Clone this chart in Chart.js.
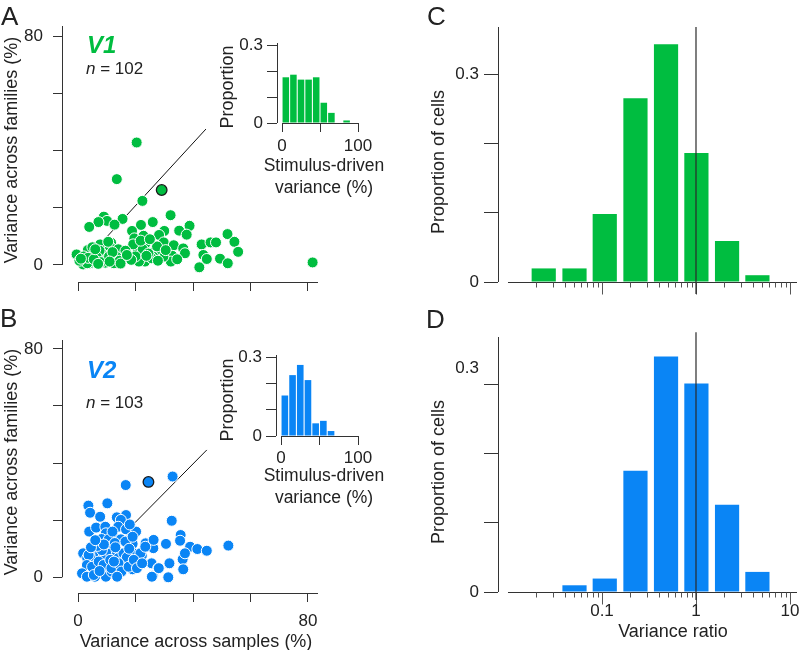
<!DOCTYPE html>
<html>
<head>
<meta charset="utf-8">
<script src="https://cdn.jsdelivr.net/npm/chart.js@4.4.1/dist/chart.umd.min.js"></script>
<style>
  body { margin: 0; background: #fff; }
  #fig { position: relative; width: 800px; height: 650px; overflow: hidden;
         font-family: "Liberation Sans", Arial, sans-serif; color: #222; }
  #fig canvas { position: absolute; left: 0; top: 0; }
  .lbl { position: absolute; line-height: 1; white-space: nowrap; }
  .panel { font-size: 26px; }
  .area { font-size: 24px; font-weight: bold; font-style: italic; }
  .n { font-size: 17px; }
  .xt { position: absolute; width: 180px; text-align: center; font-size: 17.5px; line-height: 22px; }
  .ttl { position: absolute; font-size: 18px; line-height: 1; white-space: nowrap; transform: translate(-50%, -50%); }
  .ttl.v { transform: translate(-50%, -50%) rotate(-90deg); }
</style>
</head>
<body>
<div id="fig">
  <canvas id="scatterA" width="800" height="650"></canvas>
  <canvas id="insetA" width="800" height="650"></canvas>
  <canvas id="scatterB" width="800" height="650"></canvas>
  <canvas id="insetB" width="800" height="650"></canvas>
  <canvas id="ratioC" width="800" height="650"></canvas>
  <canvas id="ratioD" width="800" height="650"></canvas>

  <div class="lbl panel" style="left:1px;top:3px">A</div>
  <div class="lbl panel" style="left:0px;top:305px">B</div>
  <div class="lbl panel" style="left:427px;top:3px">C</div>
  <div class="lbl panel" style="left:426px;top:306px">D</div>
  <div class="lbl area" style="left:87px;top:33px;color:#00bd40">V1</div>
  <div class="lbl n" style="left:86px;top:60px"><i>n</i> = 102</div>
  <div class="lbl area" style="left:87px;top:358px;color:#0a85f5">V2</div>
  <div class="lbl n" style="left:86px;top:394px"><i>n</i> = 103</div>
  <div class="xt" style="left:234px;top:154px">Stimulus-driven<br>variance (%)</div>
  <div class="xt" style="left:234px;top:464px">Stimulus-driven<br>variance (%)</div>

  <div class="ttl v" style="left:11px;top:150px">Variance across families (%)</div>
  <div class="ttl v" style="left:11px;top:462px">Variance across families (%)</div>
  <div class="ttl" style="left:196px;top:641px">Variance across samples (%)</div>
  <div class="ttl v" style="left:227px;top:87px">Proportion</div>
  <div class="ttl v" style="left:227px;top:400px">Proportion</div>
  <div class="ttl v" style="left:438px;top:162px">Proportion of cells</div>
  <div class="ttl v" style="left:438px;top:472px">Proportion of cells</div>
  <div class="ttl" style="left:673px;top:631px">Variance ratio</div>
</div>
<script>
// ---- data ----
// panel A: V1 cells, variance across samples (x) vs across families (y), %
const v1Samples = [20.4, 13.5, 22.4, 32.2, 15.5, 9.0, 10.1, 7.1, 3.9, 12.7, 26.0, 21.9, 35.2, 38.8, 37.8, 30.0, 28.2, 18.8, 19.6, 22.8,
  23.5, 29.8, 33.3, 36.6, 37.2, 32.8, 32.3, 29.7, 26.8, 26.2, 24.2, 23.3, 21.2, 20.8, 25.6, 22.5, 19.2, 27.5, 43.0, 46.1,
  48.0, 52.0, 54.4, 55.7, 43.6, 44.8, 49.4, 52.1, 42.2, 81.6, -0.5, 1.8, 3.4, 4.2, 5.9, 6.5, 7.7, 9.0, 10.2, 11.5,
  12.3, 12.5, 12.9, 15.5, 16.0, 11.1, 2.4, 8.8, 10.5, 4.8, 3.2, 7.5, 14.0, 5.0, 9.5, 13.5, 2.0, 6.5, 0.5, 3.5,
  8.0, 10.8, 14.5, 16.5, 5.5, 12.0, 20.0, 24.5, 27.8, 30.5, 21.8, 34.5, 25.0, 18.5, 14.8, 6.0, 1.0, 7.0, 11.0, 17.0, 23.8];
const v1Families = [42.8, 30.0, 22.4, 17.4, 16.1, 16.9, 15.4, 15.0, 13.3, 14.1, 15.0, 14.0, 12.0, 13.7, 10.6, 11.9, 10.5, 11.9, 9.3, 10.2,
  7.6, 7.9, 6.9, 5.8, 4.1, 3.2, 1.2, 2.9, 4.8, 2.9, 2.0, 1.2, 1.2, 4.9, 2.4, 5.5, 7.2, 6.5, 7.2, 7.9,
  7.9, 10.8, 8.1, 4.6, 3.5, 2.1, 2.2, 0.6, -0.8, 0.9, 3.7, 0.2, 5.2, 0.6, 4.1, 1.2, 7.2, 2.0, 5.8, 7.8,
  1.7, 0.6, 3.5, 4.1, 2.3, 6.4, 1.7, 3.5, 8.1, 1.2, 0.6, 5.0, 5.5, 6.2, 0.8, 2.8, 3.0, 2.8, 1.5, 2.5,
  1.0, 3.0, 1.5, 5.0, 2.0, 4.5, 3.0, 4.0, 1.5, 5.2, 8.5, 2.0, 9.0, 1.8, 0.5, 5.5, 2.2, 0.4, 1.2, 3.5, 3.2];
const v1Example = [29.1, 26.2];

// panel B: V2 cells
const v2Samples = [16.6, 32.9, 10.2, 3.6, 4.2, 7.7, 16.7, 13.5, 14.9, 32.6, 3.9, 6.3, 9.5, 9.7, 14.0, 16.7, 20.2, 8.2, 12.9, 14.9,
  18.4, 10.2, 19.0, 26.2, 23.5, 26.2, 30.6, 35.7, 35.5, 39.0, 41.5, 44.8, 52.3, 1.8, 3.2, 5.6, 7.7, 8.8, 11.5, 13.5,
  14.0, 15.8, 17.5, 19.2, 20.4, 22.2, 5.1, 1.6, 5.9, 9.0, 9.7, 11.7, 15.2, 15.2, 19.0, 20.2, 25.6, 27.9, 26.0, 31.4,
  31.8, 36.4, 36.6, 37.2, 3.7, 8.3, 10.7, 12.8, 16.5, 19.0, 21.7, 23.4, 26.3, 17.0, 3.1, 4.9, 7.2, 8.9, 11.2, 11.6,
  14.1, 15.1, 17.6, 19.4, 20.5, 22.3, 1.4, 3.1, 5.5, 13.6, 25.7, 28.1, 6.8, 12.0, 17.8, 4.5, 9.0, 13.0, 6.0, 18.0, 7.5, 12.5];
const v2Families = [32.3, 35.3, 25.9, 25.1, 22.6, 21.2, 21.8, 21.0, 20.1, 19.8, 16.0, 17.4, 17.7, 15.4, 17.7, 16.8, 16.0, 13.4, 13.4, 13.3,
  13.7, 11.3, 11.7, 12.8, 11.9, 10.2, 11.7, 14.8, 12.8, 10.7, 9.9, 9.3, 11.1, 8.4, 6.7, 7.2, 8.4, 6.7, 8.4, 9.0,
  6.7, 8.4, 6.7, 8.4, 6.1, 7.5, 3.7, 1.2, 0.2, 3.7, 0.2, 2.0, 4.3, 2.3, 2.8, 4.9, 4.9, 3.2, 0.5, 0.0,
  4.9, 6.3, 2.8, 8.4, 7.8, 9.5, 13.3, 12.0, 12.5, 14.2, 8.4, 10.7, 13.1, 7.0, 4.3, 3.7, 5.5, 4.3, 6.1, 3.2,
  4.9, 2.0, 3.7, 6.1, 3.2, 4.9, 1.4, 0.2, 0.8, 0.2, 0.2, 3.2, 11.0, 16.0, 10.0, 10.5, 11.5, 10.5, 13.0, 18.5, 2.2, 5.5];
const v2Example = [24.5, 33.4];

// unity-line segments drawn in the scatter panels
const unityA = [[9.0, 8.7], [44.5, 47.5]];
const unityB = [[18.4, 17.7], [44.8, 44.6]];

// insets: stimulus-driven variance histograms (bin centres, proportion)
const stimBins = [5, 15, 25, 35, 45, 55, 65, 75, 85];
const stimV1 = [0.176, 0.186, 0.167, 0.167, 0.176, 0.078, 0.039, 0, 0.0098];
const stimV2 = [0.155, 0.233, 0.272, 0.214, 0.0485, 0.058, 0.019, 0, 0];

// C / D: variance ratio histograms on a log axis
const ratioBins = [0.024, 0.051, 0.107, 0.227, 0.48, 1.01, 2.14, 4.5];
const ratioV1 = [0.0196, 0.0196, 0.098, 0.265, 0.343, 0.186, 0.059, 0.0098];
const ratioV2 = [0, 0.0097, 0.0194, 0.175, 0.340, 0.301, 0.126, 0.029];
const medianV1 = 0.394;
const medianV2 = 0.623;

// ticks
const scatterTicks = [0, 20, 40, 60, 80];
const scatterYLabels = ['0', '', '', '', '80'];
const scatterXLabelsA = ['', '', '', '', ''];
const scatterXLabelsB = ['0', '', '', '', '80'];
const propTicks = [0, 0.1, 0.2, 0.3];
const propLabels = ['0', '', '', '0.3'];
// in panel D the "0.3" label sits a little above its tick in the original
const propTicksD = [0, 0.1, 0.2, 0.3, 0.323];
const propLabelsD = ['0', '', '', '', '0.3'];
const labelOnlyD = [0.323];
const stimTicks = [0, 50, 100];
const stimLabels = ['0', '', '100'];
const ratioMajor = [0.1, 1, 10];
const ratioMinor = [0.02, 0.03, 0.04, 0.05, 0.06, 0.07, 0.08, 0.09,
  0.2, 0.3, 0.4, 0.5, 0.6, 0.7, 0.8, 0.9, 2, 3, 4, 5, 6, 7, 8, 9];
const ratioLabelsC = ['', '', ''];
const ratioLabelsD = ['0.1', '1', '10'];

// ---- style ----
const GREEN = '#00bd40';
const BLUE = '#0a85f5';
const AXIS = '#333';

Chart.defaults.font.family = '"Liberation Sans", Arial, sans-serif';
Chart.defaults.font.size = 17;
Chart.defaults.color = '#222';
Chart.defaults.animation = false;
Chart.defaults.responsive = false;
Chart.defaults.events = [];
Chart.defaults.layout.autoPadding = false;
Chart.defaults.plugins.legend.display = false;
Chart.defaults.plugins.tooltip.enabled = false;

// axis lines that only span part of the chart area (offset axes look)
const offsetAxes = {
    id: 'offsetAxes',
    beforeDatasetsDraw(chart, args, o) {
        const { ctx, chartArea } = chart;
        const sx = chart.scales.x, sy = chart.scales.y;
        const left = Math.round(chartArea.left) + 0.5;
        const bottom = Math.round(chartArea.bottom) + 0.5;
        ctx.save();
        ctx.strokeStyle = AXIS;
        ctx.lineWidth = 1;
        ctx.beginPath();
        ctx.moveTo(left, sy.getPixelForValue(o.ySpan[1]));
        ctx.lineTo(left, sy.getPixelForValue(o.ySpan[0]));
        ctx.moveTo(sx.getPixelForValue(o.xSpan[0]), bottom);
        ctx.lineTo(sx.getPixelForValue(o.xSpan[1]), bottom);
        ctx.stroke();
        if (o.logTicks) {
            ctx.strokeStyle = '#555';
            ctx.beginPath();
            ratioMinor.forEach(v => {
                const p = Math.round(sx.getPixelForValue(v)) + 0.5;
                ctx.moveTo(p, bottom); ctx.lineTo(p, bottom + 5);
            });
            ratioMajor.forEach(v => {
                const p = Math.round(sx.getPixelForValue(v)) + 0.5;
                ctx.moveTo(p, bottom); ctx.lineTo(p, bottom + 12);
            });
            ctx.stroke();
        }
        ctx.restore();
    }
};

function axis(type, min, max, tickVals, tickLabels, tickLen, pad, fitSize, labelOnly) {
    const noMark = labelOnly || [];
    return {
        type: type, min: min, max: max, offset: false,
        afterBuildTicks: s => { s.ticks = tickVals.map(v => ({ value: v })); },
        afterFit: s => {
            if (s.isHorizontal()) s.height = fitSize; else s.width = fitSize;
            // labels may hang past the plot edge, like in the original
            s.paddingLeft = s.paddingRight = s.paddingTop = s.paddingBottom = 0;
        },
        grid: { display: tickLen > 0, drawOnChartArea: false, drawTicks: tickLen > 0, tickLength: tickLen,
                tickColor: c => (c.tick && noMark.includes(c.tick.value)) ? 'rgba(0,0,0,0)' : AXIS,
                tickWidth: 1, offset: false },
        border: { display: false },
        ticks: { autoSkip: false, maxRotation: 0, padding: pad, callback: (v, i) => tickLabels[i] },
        title: { display: false }
    };
}

function points(xs, ys) {
    return xs.map((x, i) => ({ x: x, y: ys[i] }));
}

function scatterPanel(id, xs, ys, example, unity, color, area, xLabels) {
    new Chart(document.getElementById(id), {
        type: 'scatter',
        data: {
            datasets: [
                { data: [{ x: example[0], y: example[1] }], backgroundColor: color, borderColor: '#1a1a1a',
                  borderWidth: 1.3, pointRadius: 5.3, order: 0 },
                { data: points(xs, ys), backgroundColor: color, borderColor: '#fff', borderWidth: 1,
                  pointRadius: 5.5, order: 1 },
                { type: 'line', data: unity.map(p => ({ x: p[0], y: p[1] })), borderColor: '#111',
                  borderWidth: 1, pointRadius: 0, order: 2 }
            ]
        },
        options: {
            layout: { padding: area.pad },
            scales: {
                x: axis('linear', -5.57, 83.48, scatterTicks, xLabels, 9, 9, area.h),
                y: axis('linear', area.ymin, area.ymax, scatterTicks, scatterYLabels, 9, 10, 62)
            },
            plugins: { offsetAxes: { xSpan: [0, 83.48], ySpan: [0, area.ymax] } }
        },
        plugins: [offsetAxes]
    });
}

function insetPanel(id, values, color, area) {
    new Chart(document.getElementById(id), {
        type: 'bar',
        data: {
            datasets: [{ data: points(stimBins, values), backgroundColor: color, borderWidth: 0,
                         categoryPercentage: 1, barPercentage: 0.86 }]
        },
        options: {
            layout: { padding: area.pad },
            scales: {
                x: axis('linear', area.xmin, 100, stimTicks, stimLabels, 9, area.xPad, area.h),
                y: axis('linear', 0, area.ymax, propTicks, propLabels, 10, 4, area.w)
            },
            plugins: { offsetAxes: { xSpan: [0, 100], ySpan: [0, area.ymax] } }
        },
        plugins: [offsetAxes]
    });
}

function ratioPanel(id, values, median, color, area, xLabels, yTicks, yLabels, labelOnly) {
    new Chart(document.getElementById(id), {
        type: 'bar',
        data: {
            datasets: [
                { type: 'scatter', data: [{ x: median, y: area.mark }], backgroundColor: color, borderWidth: 0,
                  pointStyle: 'triangle', rotation: 180, pointRadius: 8, clip: false, order: 0 },
                { type: 'line', data: [{ x: 1, y: area.lineLow }, { x: 1, y: area.lineHigh }], borderColor: '#2a2a2a',
                  borderWidth: 1.2, pointRadius: 0, clip: false, order: 1 },
                { data: points(ratioBins, values), backgroundColor: color, borderWidth: 0,
                  categoryPercentage: 1, barPercentage: 0.8, order: 2 }
            ]
        },
        options: {
            layout: { padding: area.pad },
            scales: {
                x: axis('logarithmic', 0.00783, 11.87, ratioMajor, xLabels, 0, 9, area.h),
                y: axis('linear', 0, 0.368, yTicks, yLabels, 14, 5, 71, labelOnly)
            },
            plugins: { offsetAxes: { xSpan: [0.01, 11.87], ySpan: [0, 0.368], logTicks: true } }
        },
        plugins: [offsetAxes]
    });
}

scatterPanel('scatterA', v1Samples, v1Families, v1Example, unityA, GREEN,
    { pad: { left: 0, top: 26, right: 482, bottom: 348 }, h: 20, ymin: -5.94, ymax: 83.5 },
    scatterXLabelsA);
scatterPanel('scatterB', v2Samples, v2Families, v2Example, unityB, BLUE,
    { pad: { left: 0, top: 340, right: 482, bottom: 0 }, h: 57, ymin: -5.5, ymax: 83.1 },
    scatterXLabelsB);

insetPanel('insetA', stimV1, GREEN,
    { pad: { left: 217, top: 43, right: 442, bottom: 452 }, w: 60, h: 75, xmin: -6.6, ymax: 0.308, xPad: 4 });
insetPanel('insetB', stimV2, BLUE,
    { pad: { left: 217, top: 355, right: 442, bottom: 142 }, w: 59, h: 72, xmin: -6.5, ymax: 0.31, xPad: 3 });

ratioPanel('ratioC', ratioV1, medianV1, GREEN,
    { pad: { left: 427, top: 27, right: 3, bottom: 348 }, h: 20, mark: 0.384, lineLow: -0.0173, lineHigh: 0.368 },
    ratioLabelsC, propTicks, propLabels, []);
ratioPanel('ratioD', ratioV2, medianV2, BLUE,
    { pad: { left: 427, top: 337, right: 3, bottom: 0 }, h: 58, mark: 0.387, lineLow: -0.0115, lineHigh: 0.375 },
    ratioLabelsD, propTicksD, propLabelsD, labelOnlyD);
</script>
</body>
</html>
